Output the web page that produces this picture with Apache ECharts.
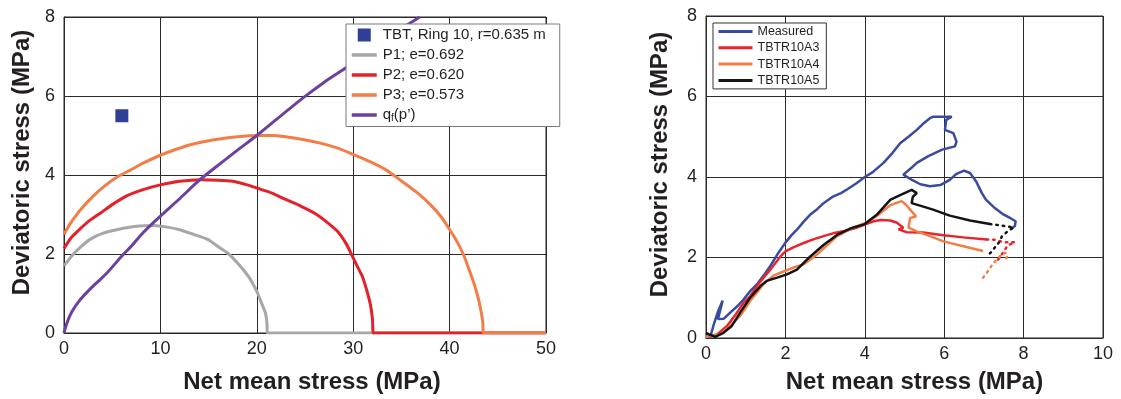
<!DOCTYPE html>
<html>
<head>
<meta charset="utf-8">
<script src="https://cdn.jsdelivr.net/npm/echarts@6/dist/echarts.min.js"></script>
<style>
html,body{margin:0;padding:0;background:#fff;}
#chart{width:1121px;height:399px;}
</style>
</head>
<body>
<div id="chart"></div>
<script>
// ---------- Left panel data ----------
const leftXTicks = [0, 10, 20, 30, 40, 50];
const leftYTicks = [0, 2, 4, 6, 8];
const tbtPoint = [[6.0, 5.5]];
const p1Curve = [[0,1.7],[0.8,1.95],[1.6,2.15],[2.7,2.37],[4.0,2.52],[5.6,2.62],[7.5,2.7],[9.3,2.72],[10.7,2.68],[11.9,2.62],[13.4,2.5],[14.9,2.37],[16.2,2.15],[17.1,2.0],[17.9,1.8],[18.6,1.6],[19.3,1.37],[19.8,1.15],[20.1,1.0],[20.5,0.75],[20.9,0.5],[21.05,0.25],[21.1,0],[50,0]];
const p2Curve = [[0,2.14],[0.7,2.4],[1.6,2.62],[2.5,2.82],[3.8,3.04],[5.0,3.25],[6.4,3.46],[8.2,3.63],[10,3.75],[12,3.84],[14.2,3.88],[16,3.87],[17.5,3.84],[19,3.75],[20,3.67],[21.5,3.55],[23,3.38],[24.5,3.22],[26,3.03],[27.3,2.8],[28.5,2.54],[29.3,2.25],[29.8,2.0],[30.4,1.7],[31,1.4],[31.5,1.0],[31.8,0.7],[32,0.35],[32.1,0],[50,0]];
const p3Curve = [[0,2.5],[0.6,2.75],[1.2,2.96],[2.0,3.2],[3.0,3.46],[4.2,3.72],[5.6,3.96],[7.0,4.14],[8.2,4.3],[10,4.5],[11.5,4.64],[13,4.76],[14.6,4.85],[16.3,4.92],[18,4.97],[20,5.0],[21.5,5.0],[23,4.97],[24.8,4.9],[26.7,4.8],[28.4,4.68],[30,4.52],[31.8,4.33],[33.4,4.13],[35,3.85],[36.7,3.54],[38,3.25],[39.1,2.95],[40,2.62],[40.8,2.3],[41.5,1.95],[42.1,1.55],[42.6,1.2],[43,0.85],[43.3,0.5],[43.45,0.25],[43.5,0],[50,0]];
const qfCurve = [[0,0],[0.3,0.25],[0.8,0.53],[1.6,0.82],[2.7,1.11],[3.6,1.32],[4.5,1.53],[6.0,1.95],[7.0,2.2],[8.2,2.54],[10,2.96],[11.9,3.38],[14.1,3.88],[16,4.25],[18,4.63],[20,5.0],[22,5.4],[24.9,5.97],[27,6.35],[29.3,6.72],[31.5,7.1],[34.1,7.56],[36.9,8.0]];

// ---------- Right panel data ----------
const rightXTicks = [0, 2, 4, 6, 8, 10];
const rightYTicks = [0, 2, 4, 6, 8];
const measured = [[0.1,0],[0.2,0.35],[0.3,0.65],[0.42,0.93],[0.36,0.7],[0.3,0.47],[0.45,0.48],[0.61,0.63],[0.8,0.8],[0.95,0.96],[1.1,1.15],[1.28,1.33],[1.45,1.55],[1.62,1.79],[1.8,2.08],[2.0,2.37],[2.15,2.55],[2.29,2.69],[2.45,2.88],[2.62,3.06],[2.8,3.2],[2.96,3.35],[3.21,3.52],[3.4,3.6],[3.55,3.69],[3.8,3.85],[4.0,4.0],[4.2,4.12],[4.47,4.35],[4.7,4.6],[4.89,4.84],[5.1,5.0],[5.31,5.17],[5.5,5.35],[5.64,5.46],[5.73,5.5],[6.19,5.5],[6.05,5.42],[6.02,5.17],[6.23,5.09],[6.31,4.88],[6.27,4.76],[5.95,4.68],[5.6,4.52],[5.31,4.35],[5.2,4.25],[4.97,4.06],[5.2,3.92],[5.4,3.82],[5.64,3.77],[5.9,3.8],[6.14,3.93],[6.31,4.08],[6.5,4.16],[6.65,4.1],[6.81,3.88],[6.95,3.6],[7.05,3.44],[7.25,3.25],[7.49,3.07],[7.68,2.97],[7.8,2.9],[7.78,2.78],[7.7,2.72]];
const a3 = [[0,0.03],[0.28,0.09],[0.53,0.3],[0.78,0.63],[0.95,0.88],[1.1,1.02],[1.28,1.29],[1.45,1.5],[1.62,1.7],[1.87,2.02],[2.0,2.15],[2.2,2.25],[2.46,2.36],[2.7,2.45],[2.96,2.53],[3.2,2.6],[3.46,2.65],[3.8,2.74],[4.0,2.82],[4.22,2.9],[4.4,2.93],[4.64,2.92],[4.8,2.87],[4.89,2.8],[4.97,2.74],[4.85,2.7],[5.05,2.63],[5.47,2.62],[5.98,2.55],[6.48,2.5],[7.07,2.45]];
const a3Tail = [[7.07,2.45],[7.3,2.44],[7.5,2.38],[7.78,2.38],[7.6,2.3],[7.5,2.15],[7.4,2.0],[7.3,1.88]];
const a4 = [[0,0.03],[0.36,0.09],[0.61,0.3],[0.86,0.55],[1.0,0.75],[1.11,0.92],[1.3,1.15],[1.45,1.34],[1.7,1.55],[2.0,1.67],[2.2,1.75],[2.46,1.83],[2.79,2.07],[3.05,2.3],[3.3,2.53],[3.71,2.74],[4.0,2.85],[4.3,3.03],[4.64,3.3],[4.93,3.4],[5.05,3.3],[5.14,3.19],[5.29,3.02],[5.14,2.98],[5.1,2.74],[5.31,2.65],[5.64,2.53],[5.98,2.4],[6.48,2.28],[6.98,2.16]];
const a4Tail = [[6.98,1.5],[7.1,1.66],[7.19,1.79],[7.32,1.95],[7.4,2.03],[7.53,2.12],[7.6,2.05],[7.55,1.95]];
const a5 = [[0,0.13],[0.1,0.08],[0.23,0.03],[0.44,0.13],[0.65,0.3],[0.86,0.63],[1.11,1.0],[1.37,1.29],[1.53,1.42],[1.79,1.5],[2.04,1.58],[2.29,1.7],[2.62,2.02],[2.96,2.31],[3.3,2.56],[3.63,2.72],[4.0,2.83],[4.3,3.06],[4.64,3.43],[4.89,3.55],[5.18,3.68],[5.31,3.6],[5.21,3.51],[5.18,3.35],[5.39,3.29],[5.72,3.19],[6.14,3.04],[6.65,2.92],[7.15,2.83]];
const a5Tail = [[7.15,2.83],[7.4,2.8],[7.6,2.77],[7.75,2.75],[7.6,2.65],[7.45,2.52],[7.4,2.4],[7.3,2.28],[7.2,2.15],[7.15,2.1]];

const FONT = "'Liberation Sans', Arial, Helvetica, sans-serif";
const TXT = '#231f20';
const GRIDC = '#2a2a2a';

function xAxisCfg(gi, ticks, nameGap, nameShift) {
  return {
    gridIndex: gi, type: 'value', min: ticks[0], max: ticks[ticks.length-1],
    interval: ticks[1]-ticks[0],
    name: 'Net mean stress (MPa)', nameLocation: 'middle', nameGap: nameGap,
    nameTextStyle: {fontFamily: FONT, fontSize: 24, fontWeight: 'bold', color: TXT, padding: [0,0,0,nameShift]},
    axisLine: {show: true, lineStyle: {color: GRIDC, width: 1}},
    axisTick: {show: false},
    axisLabel: {fontFamily: FONT, fontSize: 18, color: TXT, margin: 7},
    splitLine: {show: true, lineStyle: {color: GRIDC, width: 1}}
  };
}
function yAxisCfg(gi, ticks, nameGap) {
  return {
    gridIndex: gi, type: 'value', min: ticks[0], max: ticks[ticks.length-1],
    interval: ticks[1]-ticks[0],
    name: 'Deviatoric stress (MPa)', nameLocation: 'middle', nameGap: nameGap,
    nameTextStyle: {fontFamily: FONT, fontSize: 24, fontWeight: 'bold', color: TXT, padding: [0,0,0,25]},
    axisLine: {show: true, lineStyle: {color: GRIDC, width: 1}},
    axisTick: {show: false},
    axisLabel: {fontFamily: FONT, fontSize: 18, color: TXT, margin: 9},
    splitLine: {show: true, lineStyle: {color: GRIDC, width: 1}}
  };
}
function lineSeries(name, data, color, width, xi, opts) {
  opts = opts || {};
  return {
    name: name, type: 'line', data: data, xAxisIndex: xi, yAxisIndex: xi,
    showSymbol: false, symbol: 'none', smooth: opts.smooth || false, clip: true,
    lineStyle: {color: color, width: width, type: opts.dotted ? [1.5, 5] : 'solid', cap: opts.dotted ? 'round' : 'butt'},
    itemStyle: {color: color}, animation: false
  };
}

const C = {
  tbt: '#2f3e96', p1: '#a7a7a7', p2: '#e4202a', p3: '#f37d47', qf: '#6c40a0',
  meas: '#3a4aa0', a3: '#e8242c', a4: '#f37d47', a5: '#141414'
};
const hideSym = {opacity: 0};
function legLine(name, w) { return {name: name, itemStyle: hideSym, lineStyle: {width: w}}; }

const chart = echarts.init(document.getElementById('chart'), null, {renderer: 'canvas'});
chart.setOption({
  animation: false,
  backgroundColor: '#ffffff',
  textStyle: {fontFamily: FONT},
  grid: [
    {left: 64, top: 17, width: 482, height: 318, show: true, borderColor: GRIDC, borderWidth: 1, backgroundColor: 'transparent'},
    {left: 706, top: 16, width: 397, height: 322, show: true, borderColor: GRIDC, borderWidth: 1, backgroundColor: 'transparent'}
  ],
  xAxis: [xAxisCfg(0, leftXTicks, 37, 14), xAxisCfg(1, rightXTicks, 32, 20)],
  yAxis: [yAxisCfg(0, leftYTicks, 30), yAxisCfg(1, rightYTicks, 34)],
  legend: [
    {
      left: 346, top: 24, orient: 'vertical', itemWidth: 25, itemHeight: 13, itemGap: 4,
      padding: [3, 14, 3, 4], backgroundColor: '#fff', borderColor: '#7a7a7a', borderWidth: 1, borderRadius: 0,
      data: [
        {name: 'TBT, Ring 10, r=0.635 m'},
        legLine('P1; e=0.692', 3.5),
        legLine('P2; e=0.620', 3.5),
        legLine('P3; e=0.573', 3.5),
        legLine('qf(p’)', 3.5)
      ],
      formatter: function (n) { return n === 'qf(p’)' ? 'q{s|f}(p’)' : n; },
      textStyle: {fontFamily: FONT, fontSize: 15, color: TXT, lineHeight: 16, padding: [0,0,0,1],
        rich: {s: {fontFamily: FONT, fontSize: 10, color: TXT, padding: [7,0,0,0]}}},
      selectedMode: false
    },
    {
      left: 713, top: 23, orient: 'vertical', itemWidth: 34, itemHeight: 12, itemGap: 3.3,
      padding: [2, 7, 2, 4], backgroundColor: '#fff', borderColor: '#333', borderWidth: 1, borderRadius: 0,
      data: [
        legLine('Measured', 3),
        legLine('TBTR10A3', 3),
        legLine('TBTR10A4', 3),
        legLine('TBTR10A5', 3)
      ],
      textStyle: {fontFamily: FONT, fontSize: 12.5, color: TXT, lineHeight: 13},
      selectedMode: false
    }
  ],
  series: [
    {
      name: 'TBT, Ring 10, r=0.635 m', type: 'scatter', data: tbtPoint, xAxisIndex: 0, yAxisIndex: 0,
      symbol: 'path://M0,0L10,0L10,10L0,10Z', symbolKeepAspect: true, symbolSize: 13,
      itemStyle: {color: C.tbt, opacity: 1}
    },
    lineSeries('P1; e=0.692', p1Curve, C.p1, 3, 0, {smooth: 0.25}),
    lineSeries('P2; e=0.620', p2Curve, C.p2, 3, 0, {smooth: 0.25}),
    lineSeries('P3; e=0.573', p3Curve, C.p3, 3, 0, {smooth: 0.25}),
    lineSeries('qf(p’)', qfCurve, C.qf, 3, 0, {smooth: 0.25}),
    lineSeries('Measured', measured, C.meas, 2.5, 1),
    lineSeries('TBTR10A3', a3, C.a3, 2.5, 1),
    lineSeries('TBTR10A3', a3Tail, C.a3, 2.5, 1, {dotted: true}),
    lineSeries('TBTR10A4', a4, C.a4, 2.5, 1),
    lineSeries('TBTR10A4', a4Tail, C.a4, 2.5, 1, {dotted: true}),
    lineSeries('TBTR10A5', a5, C.a5, 2.5, 1),
    lineSeries('TBTR10A5', a5Tail, C.a5, 2.5, 1, {dotted: true})
  ]
});
</script>
</body>
</html>
